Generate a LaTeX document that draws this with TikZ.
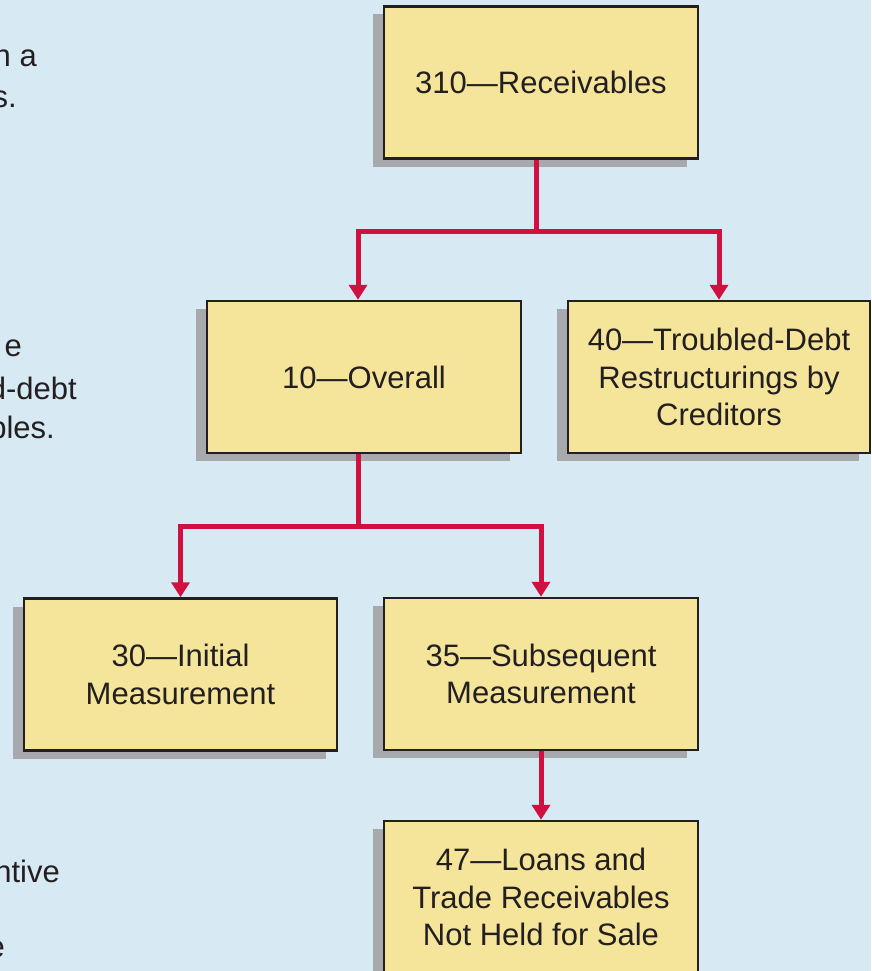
\documentclass[tikz,border=0pt]{standalone}
\usepackage{fontspec}
\setmainfont{Liberation Sans}
\usetikzlibrary{arrows.meta,shadows}
\definecolor{bgblue}{HTML}{D7E9F3}
\definecolor{boxfill}{HTML}{F5E59A}
\definecolor{shadowgray}{HTML}{A7A9AC}
\definecolor{linkred}{HTML}{D01040}
\definecolor{ink}{HTML}{231F20}
\tikzset{
  box/.style={draw=ink, line width=2.5pt, fill=boxfill, minimum width=314pt,
    minimum height=152pt, align=center, inner sep=0pt, text=ink,
    font=\fontsize{31}{37.5}\selectfont,
    general shadow={fill=shadowgray, shadow xshift=-11pt, shadow yshift=-8pt}},
  link/.style={draw=linkred, line width=5pt},
  arr/.style={link, -{Triangle[width=18pt,length=15pt]}},
  sidetext/.style={anchor=base east, inner sep=0pt, text=ink,
    font=\fontsize{31}{37.5}\selectfont}
}
\begin{document}
\begin{tikzpicture}[x=1pt,y=-1pt]
\useasboundingbox (0,0) rectangle (871,971);
\clip (0,0) rectangle (871,971);
\fill[bgblue] (0,0) rectangle (871,971);

% side text, cut off at the left edge as in the reference
\node[sidetext] (s1) at (37,67) {n a};
\node[sidetext] (s2) at (17,107) {s.};
\node[sidetext] (s3) at (22,356) {e};
\node[sidetext] (s4) at (77,399) {d-debt};
\node[sidetext] (s5) at (55,438) {bles.};
\node[sidetext] (s6) at (60,882) {ntive};
\node[sidetext] (s7) at (5,957) {e};

% boxes
\node[box] (b1) at (541,82.5) {310—Receivables};
\node[box] (b2) at (364,377) {10—Overall};
\node[box, minimum width=302pt] (b3) at (719,377) {40—Troubled-Debt\\Restructurings by\\Creditors};
\node[box, minimum width=313pt] (b4) at (180.5,674.5) {30—Initial\\Measurement};
\node[box] (b5) at (541,674) {35—Subsequent\\Measurement};
\node[box] (b6) at (541,897) {47—Loans and\\Trade Receivables\\Not Held for Sale};

% connectors
\coordinate (j1) at (536,231);
\coordinate (j2) at (358,526);
\draw[link] ([xshift=-5pt]b1.south) -- (j1);
\draw[arr] (j1) -| ([xshift=-6pt]b2.north);
\draw[arr] (j1) -| (b3.north);
\draw[link] ([xshift=-6pt]b2.south) -- (j2);
\draw[arr] (j2) -| (b4.north);
\draw[arr] (j2) -| (b5.north);
\draw[arr] (b5.south) -- (b6.north);
\end{tikzpicture}
\end{document}
